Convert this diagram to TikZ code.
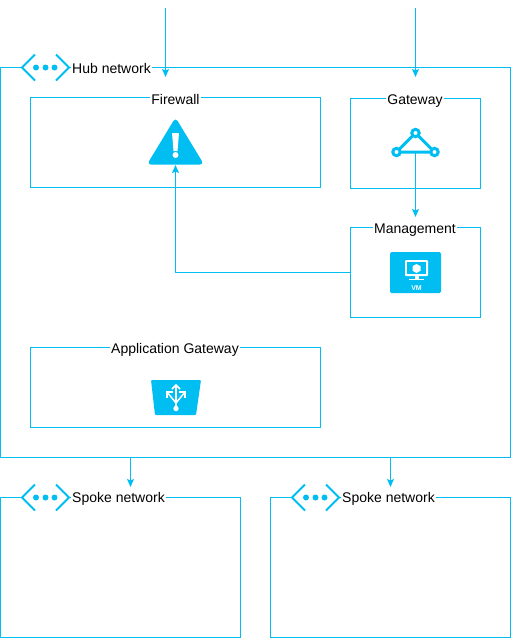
\documentclass[tikz,border=0pt]{standalone}
\usepackage{fontspec}
\setmainfont{Liberation Sans}
\usetikzlibrary{arrows.meta}

\definecolor{Azure}{RGB}{0,190,242}

\tikzset{
  netbox/.style={draw=Azure, line width=1pt, inner sep=0pt, outer sep=0pt},
  title/.style={fill=white, inner sep=1pt, text=black, font=\fontsize{14}{16}\selectfont},
  link/.style={draw=Azure, line width=1pt, ->},
  vnet/.pic={
    \fill[white] (21,-13) rectangle (70,13);
    \draw[Azure, line width=2pt] (35,-13) -- (22,0) -- (35,13);
    \draw[Azure, line width=2pt] (56,-13) -- (69,0) -- (56,13);
    \foreach \x in {36,45.5,54.5} {
      \fill[Azure] (\x,0) circle (3);
    }
  }
}

\begin{document}
\begin{tikzpicture}[x=1pt, y=-1pt, >={Stealth[length=8pt, width=7pt, inset=1.5pt]}]

\useasboundingbox (0,0) rectangle (511,638);

% boxes
\node[netbox, minimum width=510pt, minimum height=390pt] (hub) at (255.5,262.5) {};
\node[netbox, minimum width=290pt, minimum height=90pt] (firewall) at (175.5,142.5) {};
\node[netbox, minimum width=130pt, minimum height=90pt] (gateway) at (415.5,143) {};
\node[netbox, minimum width=130pt, minimum height=90pt] (management) at (415.5,272.5) {};
\node[netbox, minimum width=290pt, minimum height=80pt] (appgateway) at (175.5,387.5) {};
\node[netbox, minimum width=240pt, minimum height=140pt] (spokeA) at (120.5,567.5) {};
\node[netbox, minimum width=240pt, minimum height=140pt] (spokeB) at (390.5,567.5) {};

% network icons
\pic at (0,67.5) {vnet};
\pic at (0,497.5) {vnet};
\pic at (270,497.5) {vnet};

% firewall icon
\fill[Azure, rounded corners=4pt] (175.5,117.5) -- (204,164.5) -- (147,164.5) -- cycle;
\fill[white] (172,133) -- (179,133) -- (177.5,151) -- (173.5,151) -- cycle;
\fill[white] (175.5,155) circle (3);
\coordinate (firewallicon) at (175.5,165);

% gateway icon
\node[inner sep=0pt, minimum size=0pt] (gatewayicon) at (415.5,152) {};
\draw[Azure, line width=3pt] (415.5,133) -- (396.5,152) -- (434.5,152) -- cycle;
\foreach \x/\y in {415.5/133, 396.5/152, 434.5/152} {
  \draw[Azure, line width=3pt, fill=white] (\x,\y) circle (3.7);
}

% vm icon
\fill[Azure, rounded corners=1.5pt] (390,252) rectangle (441,293);
\fill[white, rounded corners=1pt] (405,260) rectangle (428,276);
\fill[Azure] (407,262) rectangle (426,274);
\fill[white] (416.5,264) -- (420.5,266.2) -- (420.5,270.8) -- (416.5,273) -- (412.5,270.8) -- (412.5,266.2) -- cycle;
\fill[white] (414.5,276) rectangle (418.5,279);
\fill[white] (409,279) rectangle (424,280);
\node[text=white, inner sep=0pt, font=\fontsize{7}{8}\selectfont\bfseries] (vmtext) at (416.5,288) {VM};

% application gateway icon
\fill[Azure, rounded corners=1pt] (151,380) -- (201,380) -- (196,415) -- (155,415) -- cycle;
\draw[white, line width=1.5pt] (176,408) -- (176,385);
\draw[white, line width=1.5pt] (172,389) -- (176,385) -- (180,389);
\draw[white, line width=1.5pt] (176,403) -- (167,392);
\draw[white, line width=1.5pt] (167,398) -- (167,392) -- (173,392);
\draw[white, line width=1.5pt] (176,403) -- (185,392);
\draw[white, line width=1.5pt] (185,398) -- (185,392) -- (179,392);
\fill[white] (176,408.5) circle (2.7);

% titles
\node[title, anchor=west] (hubtitle) at (71,68) {Hub network};
\node[title] (firewalltitle) at (175.5,99.5) {Firewall};
\node[title] (gatewaytitle) at (415,101) {Gateway};
\node[title] (managementtitle) at (415,230.5) {Management};
\node[title] (appgatewaytitle) at (175,350) {Application Gateway};
\node[title, anchor=west] (spokeAtitle) at (71,499) {Spoke network};
\node[title, anchor=west] (spokeBtitle) at (341,499) {Spoke network};

% free ends of the connectors
\coordinate (inA) at (165.5,8);
\coordinate (inAend) at (165.5,77);
\coordinate (inB) at (415.5,8);
\coordinate (inBend) at (415.5,77);
\coordinate (managementin) at (415.5,217);
\coordinate (hubA) at (130.5,457.5);
\coordinate (hubAend) at (130.5,487);
\coordinate (hubB) at (390.5,457.5);
\coordinate (hubBend) at (390.5,487);

\draw[link] (inA) -- (inAend);
\draw[link] (inB) -- (inBend);
\draw[link] (gatewayicon) -- (managementin);
\draw[link] (management.west) -| (firewallicon);
\draw[link] (hubA) -- (hubAend);
\draw[link] (hubB) -- (hubBend);

\end{tikzpicture}
\end{document}
